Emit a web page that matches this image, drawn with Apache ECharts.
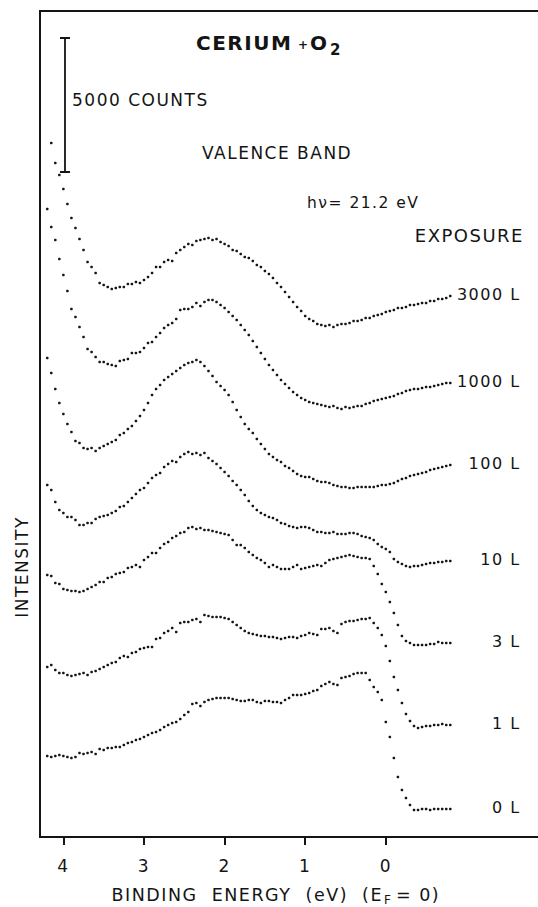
<!DOCTYPE html>
<html lang="en">
  <head>
    <meta charset="UTF-8" />
    <title>Cerium + O2 valence band</title>
    <script src="https://cdn.jsdelivr.net/npm/echarts@6/dist/echarts.min.js"></script>
  </head>
  <style>
    html,
    body {
      margin: 0;
      padding: 0;
      background: #fff;
    }
    #echart {
      width: 538px;
      height: 907px;
    }
    #echart text {
      letter-spacing: 1.5px;
    }
  </style>
  <body>
    <div id="echart"></div>
  </body>
  <script>
    // binding energy of each channel, eV
    const energy = [
      4.2, 4.15, 4.1, 4.05, 4, 3.95, 3.9, 3.85, 3.8, 3.75, 3.7, 3.65, 3.6, 3.55, 3.5, 3.45, 3.4,
      3.35, 3.3, 3.25, 3.2, 3.15, 3.1, 3.05, 3, 2.95, 2.9, 2.85, 2.8, 2.75, 2.7, 2.65, 2.6, 2.55,
      2.5, 2.45, 2.4, 2.35, 2.3, 2.25, 2.2, 2.15, 2.1, 2.05, 2, 1.95, 1.9, 1.85, 1.8, 1.75, 1.7,
      1.65, 1.6, 1.55, 1.5, 1.45, 1.4, 1.35, 1.3, 1.25, 1.2, 1.15, 1.1, 1.05, 1, 0.95, 0.9, 0.85,
      0.8, 0.75, 0.7, 0.65, 0.6, 0.55, 0.5, 0.45, 0.4, 0.35, 0.3, 0.25, 0.2, 0.15, 0.1, 0.05, 0,
      -0.05, -0.1, -0.15, -0.2, -0.25, -0.3, -0.35, -0.4, -0.45, -0.5, -0.55, -0.6, -0.65, -0.7,
      -0.75, -0.8,
    ];

    // intensity (arb. units, curves offset as in the figure; 134 units = 5000 counts)
    const exp3000 = [
      null, 694, 674, 662, 648, 633, 619, 609, 598, 587, 575, 570, 564, 554, 552, 550, 548, 549,
      550, 550, 553, 553, 555, 554, 557, 560, 564, 570, 570, 575, 577, 576, 584, 587,
      590, 593, 592, 596, 597, 598, 599, 597, 598, 595, 593, 591, 587, 586, 583, 580, 579, 576,
      572, 570, 566, 563, 559, 554, 550, 545, 540, 535, 530, 526, 521, 518, 516, 513, 512, 511,
      512, 510, 512, 513, 513, 514, 516, 516, 517, 519, 519, 521, 522, 523, 525, 526, 527, 529,
      529, 530, 532, 532, 533, 534, 534, 536, 536, 538, 538, 539, 541,
    ];
    const exp1000 = [
      628, 610, 597, 578, 562, 546, 528, 520, 510, 500, 488, 485, 480, 475, 475, 473, 472, 471,
      476, 477, 478, 484, 484, 485, 489, 494, 495, 500, 504, 509, 512, 514, 518, 527, 528, 528,
      530, 534, 531, 535, 537, 537, 535, 532, 529, 525, 521, 517, 512, 507, 502, 496, 490, 484,
      478, 472, 467, 462, 457, 453, 449, 445, 442, 439, 437, 435, 434, 433, 432, 431, 430, 431,
      429, 428, 430, 429, 430, 431, 431, 433, 434, 436, 437, 438, 439, 440, 441, 443, 444, 446,
      447, 448, 448, 449, 450, 450, 451, 452, 453, 454, 454,
    ];
    const exp100 = [
      479, 464, 448, 434, 423, 413, 405, 396, 394, 389, 388, 389, 386, 389, 391, 393, 395, 397,
      402, 404, 408, 411, 416, 421, 427, 434, 442, 448, 452, 457, 460, 463, 466, 469, 472, 474,
      475, 477, 475, 471, 466, 461, 455, 451, 447, 442, 435, 427, 420, 413, 408, 404, 398, 393,
      388, 383, 380, 377, 375, 371, 369, 366, 363, 361, 360, 360, 358, 356, 355, 355, 354, 352,
      351, 350, 350, 349, 349, 350, 350, 350, 350, 350, 351, 352, 352, 353, 354, 356, 358, 359,
      361, 362, 363, 364, 365, 367, 368, 369, 370, 371, 372,
    ];
    const exp10 = [
      352, 347, 335, 327, 324, 320, 320, 317, 312, 312, 314, 314, 318, 320, 321, 322, 324, 326,
      330, 331, 335, 339, 343, 347, 349, 354, 359, 362, 364, 370, 373, 376, 375, 380, 383, 385,
      383, 384, 382, 384, 379, 376, 373, 369, 365, 361, 356, 352, 347, 342, 336, 331, 327, 324,
      322, 320, 319, 317, 314, 313, 311, 310, 309, 310, 310, 309, 307, 305, 305, 304, 304, 305,
      303, 303, 303, 304, 304, 303, 301, 300, 299, 297, 293, 290, 288, 285, 278, 275, 273, 271,
      270, 271, 271, 272, 273, 274, 274, 275, 275, 276, 276,
    ];
    const exp3 = [
      262, 261, 254, 253, 248, 247, 246, 246, 245, 246, 248, 250, 252, 255, 255, 259, 260, 263,
      264, 265, 269, 270, 272, 270, 277, 280, 284, 284, 289, 293, 295, 299, 301, 304, 305, 309,
      310, 308, 309, 307, 307, 306, 305, 304, 303, 302, 297, 292, 292, 289, 285, 282, 279, 277,
      274, 270, 272, 270, 268, 268, 268, 270, 272, 268, 269, 270, 271, 272, 271, 274, 277, 278,
      279, 280, 281, 282, 281, 280, 279, 279, 278, 271, 263, 253, 245, 235, 224, 212, 201, 196,
      194, 192, 192, 192, 192, 193, 193, 195, 194, 194, 194,
    ];
    const exp1 = [
      170, 172, 167, 164, 164, 162, 161, 162, 163, 164, 162, 165, 166, 168, 170, 172, 174, 175,
      179, 181, 180, 184, 185, 188, 189, 190, 190, 198, 199, 204, 206, 209, 205, 214, 215, 215,
      217, 218, 215, 222, 221, 220, 220, 220, 219, 218, 215, 212, 209, 206, 204, 203, 202, 201,
      201, 200, 200, 199, 198, 199, 200, 200, 199, 201, 202, 204, 203, 202, 208, 208, 209, 206,
      204, 213, 215, 216, 216, 217, 218, 218, 219, 214, 209, 202, 191, 176, 160, 147, 134, 123,
      116, 111, 109, 110, 111, 111, 112, 112, 113, 112, 112,
    ];
    const exp0 = [
      81, 80, 81, 82, 81, 80, 79, 80, 84, 83, 84, 85, 83, 88, 87, 89, 89, 90, 90, 92, 94, 95, 97,
      98, 100, 102, 104, 105, 107, 110, 112, 114, 115, 118, 122, 125, 133, 134, 131, 135, 137, 138,
      139, 139, 139, 139, 138, 137, 136, 136, 137, 137, 135, 134, 136, 136, 135, 135, 134, 137,
      139, 142, 142, 142, 143, 144, 146, 147, 151, 153, 155, 153, 152, 159, 160, 161, 163, 164,
      164, 164, 157, 150, 145, 137, 115, 100, 79, 60, 47, 39, 32, 27, 27, 28, 28, 27, 28, 28, 28,
      28, 28,
    ];

    const exposures = ["3000 L", "1000 L", "100 L", "10 L", "3 L", "1 L", "0 L"];
    const energyTicks = [4, 3, 2, 1, 0];
    // 5000 counts scale bar: energy where it stands, lower end, length
    const scaleBar = { energy: 3.98, base: 665, span: 134 };

    const curves = [exp3000, exp1000, exp100, exp10, exp3, exp1, exp0];
    const last = energy.length - 1;
    const ink = "#141414";
    const font = "DejaVu Sans";

    const chart = echarts.init(document.getElementById("echart"), null, {
      renderer: "svg",
    });

    const series = curves.map((values, i) => ({
      name: exposures[i],
      type: "line",
      data: energy.map((e, j) => [e, values[j]]),
      symbol: "circle",
      symbolSize: 2.7,
      showAllSymbol: true,
      lineStyle: { opacity: 0 },
      itemStyle: { color: ink },
      silent: true,
      label: {
        show: true,
        position: "right",
        align: "right",
        offset: [64, -2],
        color: ink,
        fontFamily: font,
        fontSize: 16,
        formatter: (p) => (p.dataIndex === last ? p.seriesName : ""),
      },
    }));

    series.push({
      type: "line",
      data: [
        [scaleBar.energy, scaleBar.base],
        [scaleBar.energy, scaleBar.base + scaleBar.span],
      ],
      symbol: "rect",
      symbolSize: [10, 2],
      showAllSymbol: true,
      silent: true,
      lineStyle: { color: ink, width: 1.8 },
      itemStyle: { color: ink },
    });

    function txt(x, y, text, size, more) {
      return {
        type: "text",
        x: x,
        y: y,
        rotation: (more && more.rotation) || 0,
        silent: true,
        style: Object.assign(
          {
            text: text,
            fill: ink,
            fontFamily: font,
            fontSize: size,
            textAlign: "left",
            align: "left",
            textVerticalAlign: "middle",
            verticalAlign: "middle",
          },
          (more && more.style) || {}
        ),
      };
    }
    const bold = { style: { fontWeight: "bold" } };
    const right = { style: { textAlign: "right", align: "right" } };

    const option = {
      animation: false,
      grid: {
        left: 40,
        right: -5,
        top: 11,
        bottom: 70,
        show: true,
        borderColor: ink,
        borderWidth: 2,
        containLabel: false,
        outerBoundsMode: "none",
      },
      xAxis: {
        type: "value",
        inverse: true,
        min: -1.95,
        max: 4.29,
        axisLine: { show: false },
        splitLine: { show: false },
        axisTick: {
          show: true,
          length: 8,
          customValues: energyTicks,
          lineStyle: { color: ink, width: 2 },
        },
        axisLabel: {
          customValues: energyTicks,
          margin: 20,
          color: ink,
          fontFamily: font,
          fontSize: 17,
        },
      },
      yAxis: { type: "value", min: 0, max: 826, show: false },
      graphic: [
        txt(196, 43, "CERIUM", 20, bold),
        txt(298, 45, "+", 12, bold),
        txt(310, 43, "O", 20, bold),
        txt(330, 50, "2", 15, bold),
        txt(72, 100, "5000 COUNTS", 17),
        txt(202, 153, "VALENCE BAND", 17),
        txt(307, 203, "h\u03bd= 21.2 eV", 15.5),
        txt(524, 235, "EXPOSURE", 18, right),
        txt(22, 567, "INTENSITY", 17, {
          rotation: Math.PI / 2,
          style: { textAlign: "center", align: "center" },
        }),
        txt(383, 895, "BINDING  ENERGY  (eV)  (E", 17.5, right),
        txt(384, 900, "F", 12),
        txt(396, 895, "= 0)", 17.5),
      ],
      series: series,
    };

    chart.setOption(option);
  </script>
</html>
